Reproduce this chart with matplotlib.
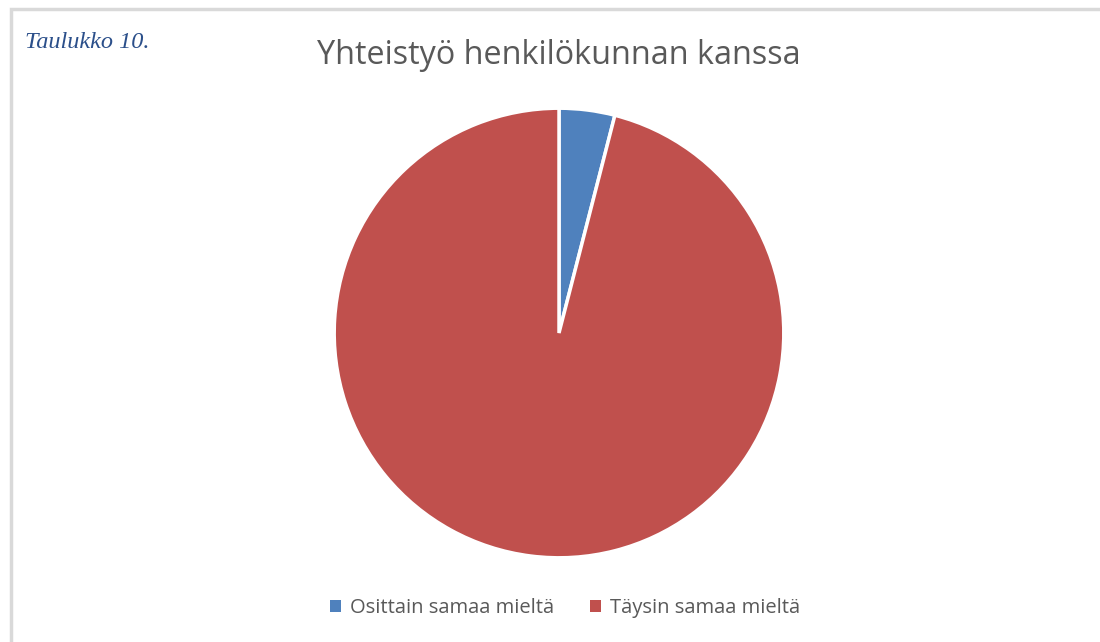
import matplotlib.pyplot as plt
from matplotlib.patches import Rectangle

# data
labels = ['Osittain samaa mieltä', 'Täysin samaa mieltä']
values = [1, 24]
colors = ['#4F81BD', '#C0504D']

fig = plt.figure(figsize=(11, 6.42), dpi=100)

# grey frame (only left and top visible)
fig.patches.append(Rectangle((11/1100, -0.1), 1.2, 1 - 9/642 + 0.1, transform=fig.transFigure,
                             fill=False, edgecolor='#d9d9d9', linewidth=2.5))

ax = fig.add_axes([(559 - 223)/1100, 1 - (333 + 223)/642, 446/1100, 446/642])
wedges, _ = ax.pie(values, colors=colors, startangle=90, counterclock=False,
                   wedgeprops=dict(edgecolor='white', linewidth=2.5))
ax.set_xlim(-0.992, 0.992)
ax.set_ylim(-0.992, 0.992)
ax.set_aspect('equal')

fig.text(559/1100, 1 - 55/642, 'Yhteistyö henkilökunnan kanssa', ha='center', va='center',
         fontsize=23.3, color='#595959', family='Open Sans')
fig.text(25/1100, 1 - 43/642, 'Taulukko 10.', ha='left', va='center',
         fontsize=17.5, color='#2B4F8A', family='Liberation Serif', style='italic')

leg = fig.legend(wedges, labels, loc='center', bbox_to_anchor=(565/1100, 1 - 608/642),
                 ncol=2, frameon=False, handlelength=0.55, handleheight=0.55,
                 handletextpad=0.45, columnspacing=1.8,
                 prop={'family': 'Open Sans', 'size': 14.5})
for t in leg.get_texts():
    t.set_color('#595959')
for h in leg.legend_handles:
    h.set_edgecolor('none')

fig.savefig('out.png', dpi=100)
